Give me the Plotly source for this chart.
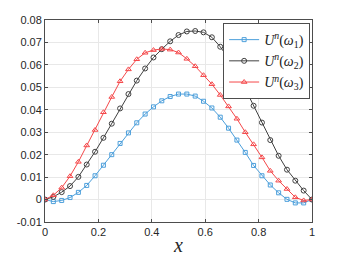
import plotly.graph_objects as go

x_vals = [i / 32 for i in range(33)]

u_omega1 = [0, -0.0009, -0.0004, 0.0009, 0.0032, 0.0063, 0.0106, 0.0153, 0.0200, 0.0250,
            0.0297, 0.0342, 0.0381, 0.0413, 0.0440, 0.0459, 0.0470, 0.0470, 0.0461, 0.0438,
            0.0408, 0.0367, 0.0318, 0.0265, 0.0210, 0.0152, 0.0106, 0.0065, 0.0030, 0.0001,
            -0.0015, -0.0015, 0]
u_omega2 = [0, 0.0012, 0.0033, 0.0060, 0.0101, 0.0156, 0.0213, 0.0275, 0.0338, 0.0406,
            0.0470, 0.0530, 0.0584, 0.0633, 0.0670, 0.0705, 0.0733, 0.0749, 0.0751, 0.0745,
            0.0723, 0.0681, 0.0629, 0.0565, 0.0493, 0.0418, 0.0343, 0.0265, 0.0195, 0.0133,
            0.0084, 0.0040, 0]
u_omega3 = [0, 0.0019, 0.0053, 0.0104, 0.0168, 0.0241, 0.0310, 0.0389, 0.0457, 0.0527,
            0.0580, 0.0625, 0.0654, 0.0666, 0.0671, 0.0668, 0.0655, 0.0627, 0.0594, 0.0554,
            0.0514, 0.0466, 0.0415, 0.0360, 0.0300, 0.0246, 0.0188, 0.0128, 0.0084, 0.0047,
            0.0010, -0.0004, 0]

names = ["<i>U</i><sup><i>n</i></sup>(<i>ω</i><sub>1</sub>)",
         "<i>U</i><sup><i>n</i></sup>(<i>ω</i><sub>2</sub>)",
         "<i>U</i><sup><i>n</i></sup>(<i>ω</i><sub>3</sub>)"]

x_ticks = [0, 0.2, 0.4, 0.6, 0.8, 1]
x_tick_text = ["0", "0.2", "0.4", "0.6", "0.8", "1"]
y_ticks = [-0.01, 0, 0.01, 0.02, 0.03, 0.04, 0.05, 0.06, 0.07, 0.08]
y_tick_text = ["-0.01", "0", "0.01", "0.02", "0.03", "0.04", "0.05", "0.06", "0.07", "0.08"]

fig = go.Figure()
fig.add_trace(go.Scatter(x=x_vals, y=u_omega1, mode="lines+markers", name=names[0],
                         line=dict(color="#4C9FDB", width=1),
                         marker=dict(symbol="square-open", size=4, color="#4C9FDB",
                                     line=dict(width=1, color="#4C9FDB"))))
fig.add_trace(go.Scatter(x=x_vals, y=u_omega2, mode="lines+markers", name=names[1],
                         line=dict(color="#404040", width=1),
                         marker=dict(symbol="circle-open", size=5, color="#404040",
                                     line=dict(width=1, color="#404040"))))
fig.add_trace(go.Scatter(x=x_vals, y=u_omega3, mode="lines+markers", name=names[2],
                         line=dict(color="#F5484A", width=1),
                         marker=dict(symbol="triangle-up-open", size=5, color="#F5484A",
                                     line=dict(width=1, color="#F5484A"))))

axis_common = dict(showline=True, linecolor="#4d4d4d", linewidth=1, mirror="ticks",
                   ticks="inside", ticklen=3, tickcolor="#4d4d4d", automargin=False,
                   showgrid=True, gridcolor="#e8e8e8", gridwidth=1, zeroline=False,
                   tickfont=dict(family="Liberation Sans, Arial", size=11, color="#262626"))

fig.update_xaxes(range=[0, 1], tickvals=x_ticks, ticktext=x_tick_text,
                 title=dict(text="<i>x</i>", font=dict(family="Liberation Serif, serif", size=20, color="#262626"),
                            standoff=0),
                 **axis_common)
fig.update_yaxes(range=[-0.01, 0.08], tickvals=y_ticks, ticktext=y_tick_text, **axis_common)

# the page body adds an 8px offset; margins compensate so the plot area lands where the reference has it
fig.update_layout(width=346, height=260,
                  margin=dict(l=37, r=42, t=12, b=46),
                  paper_bgcolor="white", plot_bgcolor="white",
                  showlegend=True,
                  legend=dict(x=0.993, y=0.985, xanchor="right", yanchor="top",
                              bgcolor="white", bordercolor="#4d4d4d", borderwidth=1,
                              font=dict(family="Liberation Serif, serif", size=14, color="#1a1a1a"),
                              tracegroupgap=0, itemwidth=30))

fig.write_html("out.html")
